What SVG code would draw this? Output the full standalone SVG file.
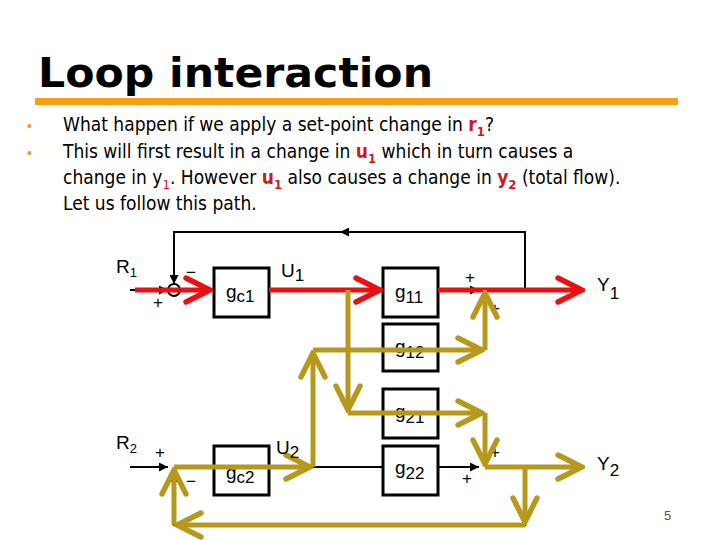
<svg xmlns="http://www.w3.org/2000/svg" width="720" height="540" viewBox="0 0 720 540">
<defs>
<marker id="ab" viewBox="0 0 10 10" refX="10" refY="5" markerWidth="9" markerHeight="9" markerUnits="userSpaceOnUse" orient="auto"><path d="M0,0 L10,5 L0,10 z" fill="#000"/></marker>
<marker id="ar" viewBox="0 0 10 10" refX="9" refY="5" markerWidth="6" markerHeight="6" orient="auto"><path d="M1,1 L9,5 L1,9" fill="none" stroke="#e81010" stroke-width="1.8" stroke-linecap="round"/></marker>
<marker id="ay" viewBox="0 0 10 10" refX="9" refY="5" markerWidth="6" markerHeight="6" orient="auto"><path d="M1,1 L9,5 L1,9" fill="none" stroke="#b8981a" stroke-width="1.8" stroke-linecap="round"/></marker>
</defs>
<style>
.t{font-family:"DejaVu Sans Condensed","Liberation Sans",sans-serif;font-size:19px;fill:#000}
.b{fill:#f0a020;font-family:"Liberation Sans",sans-serif;font-size:14px}
.red{fill:#d01818;font-weight:bold}
.box{fill:#fff;stroke:#000;stroke-width:3}
.bl{font-family:"Liberation Sans",sans-serif;font-size:19px;fill:#000}
.s{font-size:13px}
.k{stroke:#000;stroke-width:2;fill:none}
.rd{stroke:#e81010;stroke-width:5;fill:none;marker-end:url(#ar)}
.ya{stroke:#b8981a;stroke-width:5;fill:none;marker-end:url(#ay)}
.pm{font-family:"Liberation Sans",sans-serif;font-size:17px}
</style>
<rect width="720" height="540" fill="#fff"/>
<text x="38" y="87" style="font-family:'DejaVu Sans',sans-serif;font-weight:bold;font-size:40px" textLength="395" lengthAdjust="spacingAndGlyphs">Loop interaction</text>
<rect x="35" y="98" width="643" height="7" fill="#f5a010"/>
<text x="27" y="131" class="b">•</text>
<text x="27" y="158" class="b">•</text>
<text x="63" y="131" class="t">What happen if we apply a set-point change in <tspan class="red">r</tspan><tspan class="red s" dy="5">1</tspan><tspan dy="-5">?</tspan></text>
<text x="63" y="158" class="t">This will first result in a change in <tspan class="red">u</tspan><tspan class="red s" dy="5">1</tspan><tspan dy="-5"> which in turn causes a</tspan></text>
<text x="63" y="184" class="t">change in y<tspan class="s" dy="5" fill="#d01818">1</tspan><tspan dy="-5">. However </tspan><tspan class="red">u</tspan><tspan class="red s" dy="5">1</tspan><tspan dy="-5"> also causes a change in </tspan><tspan class="red">y</tspan><tspan class="red s" dy="5">2</tspan><tspan dy="-5"> (total flow).</tspan></text>
<text x="63" y="210" class="t">Let us follow this path.</text>

<g id="wires">
<path class="k" d="M130,290 H168" marker-end="url(#ab)"/>
<path class="k" d="M525,290 V232 H174 V284" marker-end="url(#ab)"/>
<path class="k" d="M525,232 H340" marker-end="url(#ab)"/>
<path class="k" d="M269,290 H383"/>
<path class="k" d="M438,290 H479" marker-end="url(#ab)"/>
<path class="k" d="M491,290 H585"/>
<path class="k" d="M130,467 H168" marker-end="url(#ab)"/>
<path class="k" d="M269,467 H383"/>
<path class="k" d="M438,467 H479" marker-end="url(#ab)"/>
<path class="k" d="M491,467 H585"/>
<path class="k" d="M525,467 V525 H174 V473" marker-end="url(#ab)"/>
</g>
<g id="sum1"><circle cx="174" cy="290" r="6" fill="none" stroke="#000" stroke-width="2"/><text x="186" y="278" class="pm">−</text><text x="153" y="308" class="pm">+</text></g>
<g id="sum2"><text x="465" y="283" class="pm">+</text><text x="490" y="314" class="pm">+</text></g>
<g id="sum3"><text x="155" y="458" class="pm">+</text><text x="186" y="487" class="pm">−</text></g>
<g id="sum4"><text x="490" y="458" class="pm">+</text><text x="462" y="484" class="pm">+</text></g>
<g id="gc1"><rect class="box" x="214" y="268" width="55" height="49"/><text x="226" y="298" class="bl">g<tspan dy="4" style="font-size:17px">c1</tspan></text></g>
<g id="g11"><rect class="box" x="383" y="268" width="55" height="49"/><text x="395" y="298" class="bl">g<tspan dy="5" style="font-size:17px">11</tspan></text></g>
<g id="g12"><rect class="box" x="383" y="324" width="55" height="47"/><text x="395" y="353" class="bl">g<tspan dy="5" style="font-size:17px">12</tspan></text></g>
<g id="g21"><rect class="box" x="383" y="389" width="55" height="49"/><text x="395" y="418" class="bl">g<tspan dy="5" style="font-size:17px">21</tspan></text></g>
<g id="g22"><rect class="box" x="383" y="446" width="55" height="49"/><text x="395" y="474" class="bl">g<tspan dy="5" style="font-size:17px">22</tspan></text></g>
<g id="gc2"><rect class="box" x="214" y="446" width="55" height="49"/><text x="226" y="479" class="bl">g<tspan dy="4" style="font-size:17px">c2</tspan></text></g>
<g id="connectors">
<path class="rd" d="M135,290 H210"/>
<path class="rd" d="M269,290 H380"/>
<path class="rd" d="M438,290 H582"/>
<path class="ya" d="M348,290 V410"/>
<path class="ya" d="M348,413 H482"/>
<path class="ya" d="M485,413 V464"/>
<path class="ya" d="M313,467 V353"/>
<path class="ya" d="M313,350 H482"/>
<path class="ya" d="M485,350 V293"/>
<path class="ya" d="M174,467 H310"/>
<path class="ya" d="M485,467 H582"/>
<path class="ya" d="M525,467 V522"/>
<path class="ya" d="M525,525 H177"/>
<path class="ya" d="M174,525 V470"/>
</g>
<g id="labels">
<text x="116" y="273" class="bl">R<tspan dy="4" style="font-size:13px">1</tspan></text>
<text x="281" y="277" class="bl">U<tspan dy="4" style="font-size:17px">1</tspan></text>
<text x="597" y="291" class="bl">Y<tspan dy="8" style="font-size:17px">1</tspan></text>
<text x="116" y="449" class="bl">R<tspan dy="4" style="font-size:13px">2</tspan></text>
<text x="276" y="454" class="bl">U<tspan dy="4" style="font-size:17px">2</tspan></text>
<text x="597" y="470" class="bl">Y<tspan dy="6" style="font-size:17px">2</tspan></text>
</g>
<text x="664" y="520" style="font-family:'Liberation Sans',sans-serif;font-size:13px;fill:#555">5</text>
</svg>
